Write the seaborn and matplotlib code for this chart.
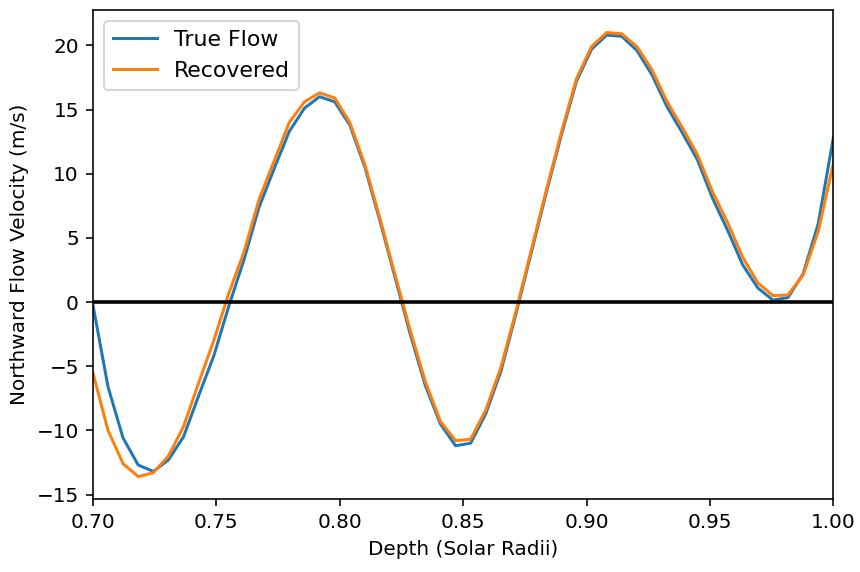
import numpy as np
import pandas as pd
import matplotlib
matplotlib.use("Agg")
import matplotlib.pyplot as plt
import seaborn as sns

depth = np.linspace(0.7, 1.0, 50)
true_flow = [-0.2, -6.6, -10.6, -12.7, -13.2, -12.3, -10.5, -7.3, -4.2, -0.3,
             3.3, 7.4, 10.4, 13.3, 15.1, 16.0, 15.6, 13.8, 10.5, 6.3,
             1.9, -2.5, -6.5, -9.5, -11.2, -11.0, -8.7, -5.4, -0.9, 3.8,
             8.5, 13.0, 17.2, 19.7, 20.8, 20.7, 19.6, 17.7, 15.2, 13.2,
             11.1, 8.1, 5.6, 2.9, 1.1, 0.15, 0.35, 2.2, 6.1, 12.8]
recovered = [-5.5, -10.0, -12.6, -13.6, -13.3, -12.0, -9.7, -6.3, -3.0, 0.7,
             3.9, 8.0, 11.0, 14.0, 15.6, 16.3, 15.9, 14.0, 10.7, 6.5,
             2.1, -2.2, -6.2, -9.3, -10.8, -10.7, -8.4, -5.1, -0.7, 4.0,
             8.7, 13.2, 17.4, 19.9, 21.0, 20.9, 19.9, 18.1, 15.6, 13.6,
             11.5, 8.6, 6.2, 3.5, 1.5, 0.5, 0.55, 2.1, 5.5, 10.8]

plt.rcParams['font.family'] = ['DejaVu Sans']
fig, ax = plt.subplots(figsize=(860/144, 572/144), dpi=144)
fig.subplots_adjust(left=0.108, right=0.969, top=0.982, bottom=0.128)

sns.lineplot(x=depth, y=true_flow, ax=ax, color='#1f77b4', lw=1.5, label='True Flow')
sns.lineplot(x=depth, y=recovered, ax=ax, color='#ff7f0e', lw=1.5, label='Recovered')
ax.axhline(0, color='black', lw=1.8)

ax.set_xlim(0.7, 1.0)
ax.set_xticks([0.70, 0.75, 0.80, 0.85, 0.90, 0.95, 1.00])
ax.set_xticklabels(['0.70', '0.75', '0.80', '0.85', '0.90', '0.95', '1.00'])
ax.set_xlabel('Depth (Solar Radii)')
ax.set_ylabel('Northward Flow Velocity (m/s)')
ax.legend(loc='upper left', fontsize=11)

fig.savefig('out.png', dpi=144)
